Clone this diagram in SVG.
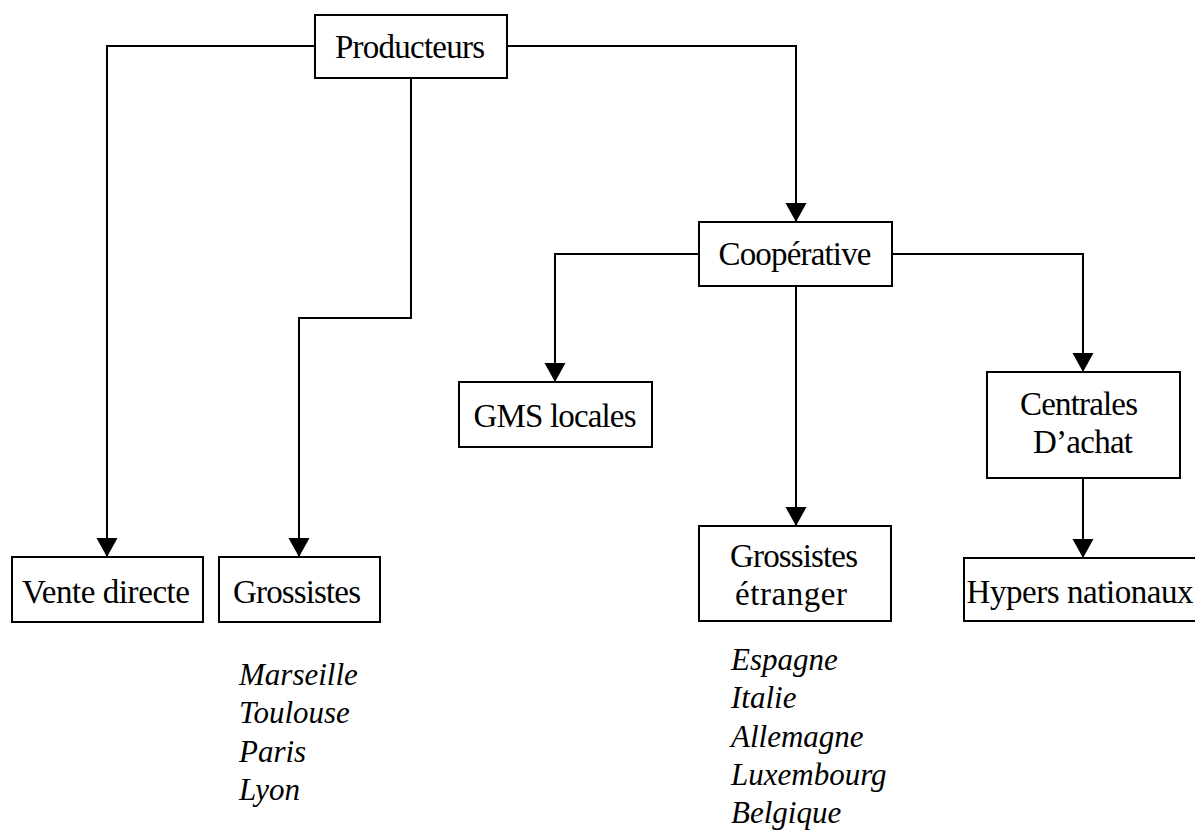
<svg xmlns="http://www.w3.org/2000/svg" width="1195" height="830" viewBox="0 0 1195 830">
  <style>
    .box { fill: #fff; stroke: #000; stroke-width: 2; }
    .lbl { font-family: "Liberation Serif", "Times New Roman", serif; font-size: 33px; fill: #000; text-anchor: middle; }
    .city { font-family: "Liberation Serif", "Times New Roman", serif; font-size: 31px; font-style: italic; fill: #000; }
    .wire { fill: none; stroke: #000; stroke-width: 2; marker-end: url(#head); }
  </style>
  <defs>
    <marker id="head" markerUnits="userSpaceOnUse" markerWidth="22" markerHeight="22" refX="19" refY="11" orient="auto">
      <path d="M0,0.5 L19,11 L0,21.5 z" fill="#000"/>
    </marker>
  </defs>
  <rect width="1195" height="830" fill="#fff"/>

  <g id="connectors">
    <path class="wire" d="M315,46 H107 V557"/>
    <path class="wire" d="M411,78 V318 H299 V557"/>
    <path class="wire" d="M507,46 H796 V222"/>
    <path class="wire" d="M699,254 H555 V382"/>
    <path class="wire" d="M796,286 V526"/>
    <path class="wire" d="M892,254 H1083 V372"/>
    <path class="wire" d="M1083,478 V558"/>
  </g>

  <g id="producteurs">
    <rect class="box" x="315" y="15" width="192" height="63"/>
    <text class="lbl" x="410" y="58" textLength="150">Producteurs</text>
  </g>

  <g id="cooperative">
    <rect class="box" x="699" y="222" width="193" height="64"/>
    <text class="lbl" x="795" y="265" textLength="153">Coopérative</text>
  </g>

  <g id="gms-locales">
    <rect class="box" x="459" y="382" width="193" height="65"/>
    <text class="lbl" x="555" y="427" textLength="163">GMS locales</text>
  </g>

  <g id="centrales-achat">
    <rect class="box" x="987" y="372" width="193" height="106"/>
    <text class="lbl" x="1079" y="415" textLength="118">Centrales</text>
    <text class="lbl" x="1083" y="453" textLength="100">D’achat</text>
  </g>

  <g id="vente-directe">
    <rect class="box" x="12" y="557" width="191" height="65"/>
    <text class="lbl" x="106" y="603" textLength="168">Vente directe</text>
  </g>

  <g id="grossistes">
    <rect class="box" x="219" y="557" width="161" height="65"/>
    <text class="lbl" x="297" y="603" textLength="128">Grossistes</text>
  </g>

  <g id="grossistes-etranger">
    <rect class="box" x="699" y="526" width="192" height="95"/>
    <text class="lbl" x="794" y="567" textLength="128">Grossistes</text>
    <text class="lbl" x="791" y="605" textLength="112">étranger</text>
  </g>

  <g id="hypers-nationaux">
    <rect class="box" x="964" y="558" width="240" height="63"/>
    <text class="lbl" x="1080" y="603" textLength="227">Hypers nationaux</text>
  </g>

  <g id="villes-france">
    <text class="city" x="239" y="685">Marseille</text>
    <text class="city" x="239" y="723">Toulouse</text>
    <text class="city" x="239" y="762">Paris</text>
    <text class="city" x="239" y="800">Lyon</text>
  </g>

  <g id="pays-etranger">
    <text class="city" x="731" y="670">Espagne</text>
    <text class="city" x="731" y="708">Italie</text>
    <text class="city" x="731" y="747">Allemagne</text>
    <text class="city" x="731" y="785">Luxembourg</text>
    <text class="city" x="731" y="823">Belgique</text>
  </g>
</svg>
